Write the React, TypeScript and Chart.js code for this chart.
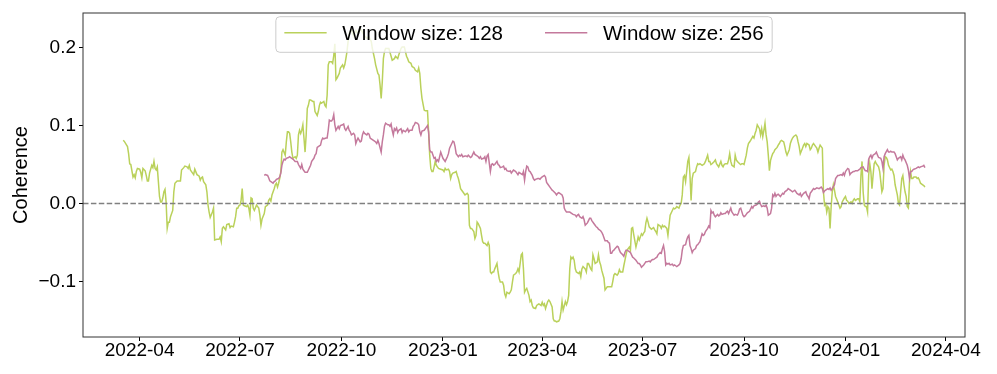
import React, { useEffect, useRef } from 'react';
import { Chart, registerables } from 'chart.js';

Chart.register(...registerables);

// ---------------- data ----------------
const BASE_DATE = '2022-04-01'; // day offsets below are counted from this date

const xTickLabels = ['2022-04', '2022-07', '2022-10', '2023-01', '2023-04', '2023-07', '2023-10', '2024-01', '2024-04'];
const yTickValues = [-0.1, 0, 0.1, 0.2];
const yTickLabels = ['\u22120.1', '0.0', '0.1', '0.2'];
const seriesLabels = ['Window size: 128', 'Window size: 256'];

const days128 = [
  -15, -14, -11, -10, -9, -8, -6, -5, -4, -3, -2, 0, 1, 2, 3, 5, 6, 7, 8, 9, 11, 12, 13, 14, 15, 16, 17, 18, 19, 20,
  21, 22, 23, 24, 25, 26, 27, 28, 30, 31, 32, 34, 35, 37, 38, 40, 41, 43, 44, 45, 46, 48, 49, 50, 52, 53, 54, 55, 56, 57,
  58, 60, 61, 62, 63, 64, 66, 67, 68, 70, 72, 73, 74, 75, 76, 78, 79, 81, 82, 83, 85, 86, 87, 88, 89, 90, 91, 92, 93, 94,
  95, 97, 98, 99, 100, 101, 102, 103, 104, 106, 107, 108, 109, 110, 111, 113, 114, 115, 116, 117, 118, 119, 120, 122, 123, 124, 125, 126, 127, 128,
  129, 130, 132, 133, 134, 135, 136, 137, 138, 139, 141, 142, 143, 144, 145, 146, 147, 148, 149, 150, 151, 152, 153, 154, 155, 157, 158, 159, 161, 162,
  163, 164, 165, 167, 168, 169, 170, 171, 172, 174, 175, 176, 177, 178, 179, 181, 182, 184, 185, 186, 187, 188, 189, 190, 192, 194, 196, 198, 200, 202,
  204, 206, 208, 210, 211, 213, 214, 216, 217, 218, 219, 220, 221, 222, 223, 226, 228, 229, 231, 232, 234, 235, 237, 238, 240, 241, 242, 243, 244, 246,
  247, 249, 250, 252, 253, 254, 255, 256, 258, 259, 261, 262, 263, 264, 265, 266, 267, 268, 269, 270, 271, 273, 275, 276, 277, 278, 280, 281, 282, 283,
  284, 286, 287, 288, 289, 290, 291, 292, 293, 295, 296, 297, 298, 299, 300, 301, 303, 304, 305, 306, 307, 309, 310, 311, 312, 313, 315, 316, 317, 318,
  319, 320, 321, 322, 324, 325, 326, 327, 329, 330, 331, 332, 333, 335, 336, 337, 338, 339, 341, 342, 343, 344, 345, 346, 347, 348, 349, 350, 351, 353,
  354, 355, 356, 357, 359, 360, 361, 362, 364, 365, 366, 367, 368, 370, 371, 372, 374, 375, 376, 377, 378, 380, 381, 382, 383, 384, 386, 387, 388, 389,
  390, 391, 392, 393, 394, 395, 396, 398, 399, 400, 401, 402, 404, 405, 406, 407, 409, 410, 411, 412, 413, 415, 416, 417, 418, 419, 421, 422, 423, 424,
  425, 427, 428, 429, 430, 431, 433, 434, 435, 436, 438, 439, 440, 441, 442, 444, 445, 446, 447, 448, 449, 450, 451, 452, 453, 455, 456, 457, 458, 459,
  460, 461, 462, 464, 465, 466, 467, 468, 469, 470, 472, 473, 474, 475, 476, 478, 479, 480, 481, 483, 484, 485, 486, 487, 489, 490, 491, 492, 493, 494,
  495, 496, 497, 498, 499, 500, 501, 502, 504, 505, 506, 507, 508, 510, 511, 512, 513, 515, 516, 517, 518, 519, 521, 522, 523, 524, 525, 527, 528, 529,
  530, 531, 533, 534, 535, 536, 537, 539, 540, 541, 542, 544, 545, 546, 547, 548, 550, 551, 552, 553, 554, 556, 557, 558, 559, 560, 562, 563, 564, 565,
  566, 567, 568, 569, 570, 571, 572, 573, 574, 575, 576, 578, 579, 580, 581, 582, 584, 585, 586, 587, 589, 590, 591, 592, 593, 595, 596, 597, 598, 599,
  601, 602, 603, 604, 605, 607, 608, 609, 610, 611, 613, 614, 615, 616, 617, 619, 620, 621, 622, 623, 624, 625, 626, 627, 628, 629, 630, 631, 633, 634,
  635, 636, 637, 639, 640, 641, 642, 643, 645, 646, 647, 648, 649, 651, 652, 653, 654, 655, 656, 657, 658, 659, 660, 661, 662, 663, 664, 665, 666, 667,
  668, 670, 671, 672, 673, 674, 675, 676, 677, 678, 679, 681, 682, 683, 684, 685, 687, 688, 689, 690, 691, 692, 693, 694, 695, 696, 697, 698, 699, 700,
  701, 702, 704, 705, 706, 707, 708, 710, 711, 712,
];
const values128 = [
  0.081, 0.080, 0.073, 0.064, 0.051, 0.050, 0.034, 0.037, 0.033, 0.041, 0.045, 0.044, 0.040, 0.033, 0.045, 0.042, 0.036, 0.029, 0.029, 0.039, 0.049, 0.046, 0.054, 0.045, 0.043, 0.047, 0.028, 0.009, 0.002, 0.002,
  0.007, 0.015, 0.018, 0.002, -0.032, -0.024, -0.024, -0.017, -0.009, 0.015, 0.026, 0.029, 0.029, 0.029, 0.043, 0.046, 0.048, 0.047, 0.045, 0.049, 0.043, 0.039, 0.037, 0.044, 0.037, 0.036, 0.035, 0.030, 0.033, 0.034,
  0.028, 0.024, 0.015, -0.002, -0.011, -0.018, -0.011, -0.006, -0.047, -0.046, -0.046, -0.043, -0.049, -0.032, -0.030, -0.034, -0.027, -0.026, -0.031, -0.029, -0.030, -0.024, -0.017, -0.006, -0.006, -0.003, -0.002, 0.004, 0.019, -0.002,
  -0.003, -0.004, -0.002, -0.006, -0.015, 0.007, 0.006, -0.006, -0.009, -0.002, -0.004, -0.006, -0.015, -0.028, -0.020, -0.013, -0.004, -0.003, -0.002, 0.004, 0.006, 0.003, 0.011, 0.019, 0.024, 0.026, 0.021, 0.026, 0.032, 0.041,
  0.066, 0.069, 0.062, 0.079, 0.092, 0.092, 0.090, 0.079, 0.066, 0.058, 0.060, 0.058, 0.062, 0.088, 0.094, 0.090, 0.094, 0.101, 0.084, 0.066, 0.088, 0.122, 0.126, 0.133, 0.133, 0.131, 0.131, 0.118, 0.113, 0.118,
  0.126, 0.130, 0.129, 0.131, 0.126, 0.124, 0.139, 0.178, 0.182, 0.182, 0.180, 0.190, 0.205, 0.159, 0.161, 0.167, 0.174, 0.178, 0.174, 0.178, 0.186, 0.195, 0.208, 0.219, 0.223, 0.215, 0.222, 0.218, 0.225, 0.220,
  0.215, 0.212, 0.214, 0.208, 0.199, 0.186, 0.178, 0.167, 0.165, 0.152, 0.135, 0.156, 0.186, 0.195, 0.199, 0.199, 0.189, 0.184, 0.186, 0.189, 0.186, 0.191, 0.199, 0.201, 0.201, 0.195, 0.189, 0.186, 0.182, 0.180,
  0.176, 0.174, 0.171, 0.169, 0.174, 0.167, 0.148, 0.135, 0.120, 0.119, 0.119, 0.092, 0.062, 0.045, 0.041, 0.041, 0.047, 0.054, 0.049, 0.047, 0.045, 0.044, 0.043, 0.041, 0.045, 0.043, 0.044, 0.041, 0.032, 0.037,
  0.039, 0.040, 0.041, 0.036, 0.032, 0.026, 0.019, 0.017, 0.015, 0.011, 0.012, 0.013, 0.011, -0.028, -0.032, -0.032, -0.036, -0.045, -0.041, -0.024, -0.026, -0.032, -0.041, -0.049, -0.051, -0.051, -0.054, -0.050, -0.054, -0.088,
  -0.090, -0.088, -0.088, -0.084, -0.077, -0.088, -0.096, -0.101, -0.101, -0.105, -0.116, -0.120, -0.114, -0.116, -0.114, -0.111, -0.101, -0.092, -0.090, -0.088, -0.084, -0.088, -0.077, -0.066, -0.064, -0.084, -0.114, -0.111, -0.109, -0.118,
  -0.126, -0.124, -0.131, -0.134, -0.135, -0.131, -0.130, -0.129, -0.131, -0.127, -0.131, -0.129, -0.135, -0.126, -0.124, -0.126, -0.133, -0.148, -0.151, -0.151, -0.152, -0.151, -0.148, -0.139, -0.126, -0.137, -0.126, -0.130, -0.126, -0.118,
  -0.084, -0.069, -0.071, -0.069, -0.073, -0.084, -0.088, -0.090, -0.088, -0.094, -0.084, -0.081, -0.084, -0.088, -0.077, -0.077, -0.084, -0.086, -0.066, -0.071, -0.077, -0.075, -0.066, -0.075, -0.079, -0.086, -0.096, -0.111, -0.109, -0.107,
  -0.107, -0.107, -0.107, -0.100, -0.092, -0.090, -0.092, -0.090, -0.085, -0.088, -0.088, -0.080, -0.073, -0.066, -0.060, -0.056, -0.060, -0.032, -0.031, -0.040, -0.048, -0.056, -0.050, -0.043, -0.047, -0.039, -0.041, -0.038, -0.036, -0.025,
  -0.019, -0.024, -0.030, -0.033, -0.032, -0.031, -0.034, -0.036, -0.039, -0.027, -0.029, -0.032, -0.028, -0.030, -0.029, -0.032, -0.041, -0.028, -0.015, -0.009, -0.006, -0.007, -0.006, -0.004, -0.006, -0.002, 0.000, 0.011, 0.034, 0.036,
  0.028, 0.041, 0.054, 0.059, 0.036, 0.004, 0.032, 0.039, 0.041, 0.047, 0.051, 0.050, 0.051, 0.049, 0.050, 0.051, 0.054, 0.062, 0.054, 0.054, 0.050, 0.051, 0.054, 0.056, 0.051, 0.049, 0.047, 0.054, 0.049, 0.047,
  0.050, 0.051, 0.051, 0.056, 0.064, 0.054, 0.049, 0.047, 0.062, 0.056, 0.054, 0.051, 0.050, 0.051, 0.051, 0.050, 0.062, 0.071, 0.077, 0.079, 0.081, 0.086, 0.084, 0.090, 0.094, 0.101, 0.096, 0.088, 0.096, 0.086,
  0.094, 0.103, 0.088, 0.079, 0.062, 0.042, 0.055, 0.060, 0.064, 0.066, 0.069, 0.072, 0.075, 0.077, 0.080, 0.081, 0.079, 0.073, 0.066, 0.062, 0.069, 0.077, 0.081, 0.084, 0.086, 0.088, 0.086, 0.079, 0.073, 0.064,
  0.071, 0.075, 0.077, 0.073, 0.077, 0.075, 0.069, 0.071, 0.075, 0.077, 0.073, 0.071, 0.066, 0.071, 0.075, 0.071, 0.015, -0.002, 0.000, -0.011, -0.004, -0.006, -0.032, -0.004, 0.015, 0.024, 0.017, 0.009, 0.002, -0.002,
  -0.006, -0.004, 0.002, 0.007, 0.009, 0.004, 0.003, 0.000, 0.002, 0.000, 0.004, 0.006, 0.004, 0.006, 0.006, 0.002, 0.036, 0.054, 0.015, -0.002, -0.004, -0.004, -0.011, 0.036, 0.051, 0.041, 0.019, 0.036, 0.051, 0.054,
  0.051, 0.047, 0.041, 0.028, 0.015, 0.019, 0.049, 0.060, 0.059, 0.056, 0.049, 0.043, 0.044, 0.041, 0.036, 0.024, 0.011, 0.000, -0.002, 0.015, 0.032, 0.036, 0.024, 0.015, 0.009, -0.004, -0.006, 0.028, 0.041, 0.032,
  0.032, 0.034, 0.034, 0.032, 0.033, 0.030, 0.026, 0.024, 0.023, 0.021,
];

const days256 = [
  113, 114, 116, 117, 118, 120, 121, 122, 123, 124, 126, 127, 128, 129, 130, 131, 132, 133, 135, 136, 137, 138, 139, 141, 142, 143, 144, 146, 147, 148,
  149, 150, 152, 153, 154, 155, 156, 158, 159, 160, 161, 162, 164, 165, 166, 167, 169, 170, 171, 172, 173, 174, 175, 176, 177, 178, 180, 181, 182, 184,
  185, 186, 187, 189, 190, 191, 192, 194, 195, 196, 197, 198, 200, 201, 202, 203, 204, 206, 207, 208, 209, 210, 212, 213, 214, 215, 216, 217, 219, 220,
  221, 222, 223, 225, 226, 227, 228, 229, 230, 231, 232, 233, 234, 235, 237, 238, 239, 241, 242, 243, 244, 245, 247, 248, 249, 250, 252, 253, 254, 255,
  256, 258, 259, 260, 261, 262, 263, 264, 265, 266, 267, 268, 269, 270, 271, 272, 273, 274, 275, 277, 278, 279, 280, 281, 283, 284, 285, 286, 287, 289,
  290, 291, 292, 293, 295, 296, 297, 298, 300, 301, 302, 303, 304, 306, 307, 308, 309, 310, 312, 313, 314, 315, 316, 318, 319, 320, 321, 322, 324, 325,
  326, 327, 329, 330, 331, 332, 333, 335, 336, 337, 338, 339, 341, 342, 343, 344, 345, 347, 348, 349, 350, 351, 352, 353, 354, 356, 357, 358, 359, 361,
  362, 363, 364, 365, 367, 368, 369, 370, 372, 373, 374, 375, 377, 378, 379, 380, 381, 383, 384, 385, 386, 387, 389, 390, 391, 392, 393, 395, 396, 397,
  398, 399, 401, 402, 403, 404, 406, 407, 408, 409, 410, 412, 413, 414, 415, 416, 418, 419, 420, 421, 422, 424, 425, 426, 427, 428, 429, 430, 431, 433,
  434, 435, 436, 438, 439, 440, 441, 442, 444, 445, 446, 447, 448, 450, 451, 452, 453, 454, 455, 457, 458, 459, 460, 462, 463, 464, 465, 466, 467, 468,
  469, 470, 472, 473, 474, 475, 476, 477, 478, 479, 480, 481, 483, 484, 485, 486, 487, 489, 490, 491, 492, 493, 495, 496, 497, 498, 499, 500, 501, 502,
  504, 505, 506, 507, 508, 510, 511, 512, 513, 515, 516, 517, 518, 519, 520, 521, 522, 524, 525, 526, 527, 528, 530, 531, 532, 533, 534, 536, 537, 538,
  539, 540, 542, 543, 544, 545, 547, 548, 549, 550, 551, 553, 554, 555, 556, 557, 559, 560, 561, 562, 563, 564, 566, 567, 568, 569, 570, 572, 573, 574,
  575, 576, 577, 578, 579, 581, 582, 583, 584, 585, 587, 588, 589, 590, 592, 593, 594, 595, 596, 598, 599, 600, 601, 602, 604, 605, 606, 607, 608, 610,
  611, 612, 613, 614, 616, 617, 618, 619, 620, 621, 622, 624, 625, 626, 627, 628, 630, 631, 632, 633, 634, 636, 637, 638, 639, 640, 642, 643, 644, 645,
  646, 647, 648, 649, 651, 652, 653, 654, 656, 657, 658, 659, 660, 661, 662, 663, 664, 665, 667, 668, 669, 670, 672, 673, 674, 675, 676, 678, 679, 680,
  681, 682, 684, 685, 686, 687, 688, 690, 691, 692, 693, 694, 696, 697, 698, 699, 700, 701, 702, 704, 705, 706, 707, 708, 710, 711, 712,
];
const values256 = [
  0.036, 0.037, 0.036, 0.033, 0.029, 0.027, 0.026, 0.028, 0.029, 0.031, 0.032, 0.034, 0.039, 0.049, 0.054, 0.057, 0.056, 0.058, 0.059, 0.060, 0.059, 0.058, 0.057, 0.054, 0.054, 0.054, 0.050, 0.045, 0.050, 0.044,
  0.042, 0.040, 0.040, 0.043, 0.046, 0.049, 0.054, 0.058, 0.062, 0.064, 0.072, 0.073, 0.075, 0.081, 0.084, 0.083, 0.084, 0.084, 0.094, 0.107, 0.106, 0.106, 0.108, 0.114, 0.101, 0.094, 0.099, 0.096, 0.100, 0.101,
  0.102, 0.096, 0.094, 0.099, 0.094, 0.092, 0.088, 0.090, 0.088, 0.077, 0.081, 0.084, 0.079, 0.080, 0.088, 0.092, 0.090, 0.088, 0.090, 0.089, 0.084, 0.083, 0.081, 0.080, 0.079, 0.077, 0.081, 0.077, 0.066, 0.079,
  0.088, 0.099, 0.103, 0.101, 0.101, 0.099, 0.102, 0.094, 0.088, 0.096, 0.094, 0.097, 0.091, 0.094, 0.096, 0.091, 0.094, 0.092, 0.094, 0.096, 0.092, 0.094, 0.094, 0.099, 0.101, 0.104, 0.103, 0.101, 0.092, 0.088,
  0.093, 0.094, 0.096, 0.098, 0.100, 0.092, 0.069, 0.066, 0.066, 0.062, 0.058, 0.059, 0.054, 0.056, 0.054, 0.060, 0.066, 0.062, 0.058, 0.054, 0.057, 0.060, 0.064, 0.071, 0.077, 0.080, 0.079, 0.073, 0.064, 0.060,
  0.062, 0.061, 0.063, 0.060, 0.061, 0.061, 0.060, 0.062, 0.059, 0.060, 0.063, 0.066, 0.063, 0.061, 0.060, 0.058, 0.060, 0.057, 0.058, 0.060, 0.054, 0.061, 0.063, 0.041, 0.050, 0.051, 0.049, 0.050, 0.054, 0.050,
  0.049, 0.046, 0.047, 0.048, 0.044, 0.045, 0.042, 0.041, 0.042, 0.039, 0.041, 0.043, 0.041, 0.039, 0.037, 0.040, 0.039, 0.037, 0.041, 0.030, 0.041, 0.048, 0.047, 0.042, 0.041, 0.036, 0.032, 0.030, 0.031, 0.032,
  0.032, 0.031, 0.033, 0.034, 0.036, 0.034, 0.027, 0.025, 0.021, 0.019, 0.017, 0.016, 0.013, 0.011, 0.013, 0.014, 0.013, 0.011, 0.007, -0.006, -0.009, -0.011, -0.011, -0.011, -0.012, -0.013, -0.014, -0.015, -0.017, -0.015,
  -0.014, -0.017, -0.019, -0.017, -0.021, -0.028, -0.025, -0.022, -0.019, -0.019, -0.022, -0.026, -0.028, -0.030, -0.031, -0.033, -0.035, -0.037, -0.040, -0.044, -0.048, -0.048, -0.050, -0.051, -0.064, -0.064, -0.061, -0.060, -0.058, -0.055,
  -0.056, -0.060, -0.063, -0.066, -0.068, -0.063, -0.060, -0.060, -0.062, -0.063, -0.066, -0.069, -0.070, -0.073, -0.075, -0.077, -0.077, -0.079, -0.082, -0.079, -0.077, -0.075, -0.075, -0.074, -0.075, -0.073, -0.072, -0.072, -0.071, -0.070,
  -0.069, -0.066, -0.063, -0.064, -0.058, -0.054, -0.062, -0.079, -0.077, -0.078, -0.077, -0.079, -0.078, -0.080, -0.079, -0.080, -0.081, -0.079, -0.077, -0.071, -0.060, -0.054, -0.053, -0.047, -0.043, -0.041, -0.054, -0.058, -0.063, -0.060,
  -0.058, -0.054, -0.053, -0.051, -0.049, -0.039, -0.041, -0.040, -0.036, -0.032, -0.029, -0.031, -0.009, -0.012, -0.011, -0.015, -0.017, -0.014, -0.016, -0.015, -0.012, -0.014, -0.013, -0.013, -0.011, -0.010, -0.013, -0.006, -0.011, -0.013,
  -0.015, -0.014, -0.015, -0.012, -0.007, -0.006, -0.015, -0.017, -0.016, -0.014, -0.012, -0.010, -0.007, -0.004, -0.006, -0.003, -0.002, -0.001, 0.002, 0.003, -0.001, -0.004, -0.003, -0.004, -0.002, -0.006, -0.015, -0.013, -0.006, 0.011,
  0.009, 0.013, 0.009, 0.011, 0.012, 0.009, 0.011, 0.013, 0.012, 0.015, 0.017, 0.019, 0.018, 0.017, 0.015, 0.016, 0.017, 0.015, 0.013, 0.011, 0.013, 0.009, 0.011, 0.013, 0.015, 0.011, 0.009, 0.006, 0.013, 0.017,
  0.019, 0.018, 0.019, 0.020, 0.019, 0.020, 0.021, 0.019, 0.014, 0.016, 0.017, 0.019, 0.018, 0.020, 0.017, 0.019, 0.024, 0.032, 0.034, 0.036, 0.036, 0.037, 0.036, 0.039, 0.036, 0.041, 0.045, 0.044, 0.037, 0.039,
  0.040, 0.041, 0.041, 0.042, 0.042, 0.043, 0.044, 0.046, 0.047, 0.044, 0.042, 0.042, 0.041, 0.057, 0.060, 0.062, 0.058, 0.062, 0.064, 0.066, 0.062, 0.059, 0.058, 0.054, 0.045, 0.060, 0.064, 0.069, 0.066, 0.066,
  0.067, 0.066, 0.066, 0.064, 0.060, 0.056, 0.058, 0.060, 0.056, 0.062, 0.058, 0.056, 0.049, 0.043, 0.032, 0.041, 0.041, 0.043, 0.044, 0.045, 0.046, 0.047, 0.046, 0.047, 0.048, 0.049, 0.046,
];

// ---------------- styling ----------------
const FONT = '"Liberation Sans", Arial, Helvetica, sans-serif';
const GREEN = '#bad15b';
const PINK = '#c4799c';

function dayOfLabel(label: string): number {
  const [y, m] = label.split('-').map(Number);
  const [by, bm, bd] = BASE_DATE.split('-').map(Number);
  return (Date.UTC(y, m - 1, 1) - Date.UTC(by, bm - 1, bd)) / 86400000;
}

const decorPlugin = {
  id: 'decor',
  afterDatasetsDraw(chart: any) {
    const { ctx, chartArea: a, scales } = chart;
    ctx.save();
    // zero reference line
    const y0 = scales.y.getPixelForValue(0);
    ctx.beginPath();
    ctx.setLineDash([5.5, 2.4]);
    ctx.lineWidth = 1.5;
    ctx.strokeStyle = '#808080';
    ctx.moveTo(a.left, y0);
    ctx.lineTo(a.right, y0);
    ctx.stroke();
    ctx.setLineDash([]);

    // frame
    ctx.lineWidth = 1;
    ctx.strokeStyle = '#333333';
    ctx.strokeRect(a.left, a.top, a.right - a.left, a.bottom - a.top);

    // legend (inside, upper centre)
    const ds = chart.data.datasets;
    ctx.font = `20.5px ${FONT}`;
    const pad = 8.5, lineLen = 42.3, gap = 15.7, colGap = 42, h = 35.6, r = 4;
    const widths = ds.map((d: any) => ctx.measureText(d.label).width);
    const total = pad * 2 + ds.length * (lineLen + gap) + widths.reduce((s: number, w: number) => s + w, 0) + colGap * (ds.length - 1);
    const bx = (a.left + a.right) / 2 - total / 2;
    const by = a.top + 3.7;
    ctx.beginPath();
    ctx.moveTo(bx + r, by);
    ctx.lineTo(bx + total - r, by);
    ctx.arcTo(bx + total, by, bx + total, by + r, r);
    ctx.lineTo(bx + total, by + h - r);
    ctx.arcTo(bx + total, by + h, bx + total - r, by + h, r);
    ctx.lineTo(bx + r, by + h);
    ctx.arcTo(bx, by + h, bx, by + h - r, r);
    ctx.lineTo(bx, by + r);
    ctx.arcTo(bx, by, bx + r, by, r);
    ctx.closePath();
    ctx.fillStyle = 'rgba(255,255,255,0.8)';
    ctx.fill();
    ctx.strokeStyle = '#cccccc';
    ctx.lineWidth = 1;
    ctx.stroke();

    let x = bx + pad;
    ds.forEach((d: any, i: number) => {
      ctx.beginPath();
      ctx.strokeStyle = d.borderColor;
      ctx.lineWidth = 1.5;
      ctx.moveTo(x, by + 16);
      ctx.lineTo(x + lineLen, by + 16);
      ctx.stroke();
      x += lineLen + gap;
      ctx.fillStyle = '#000000';
      ctx.textBaseline = 'alphabetic';
      ctx.textAlign = 'left';
      ctx.fillText(d.label, x, by + 23.3);
      x += widths[i] + colGap;
    });
    ctx.restore();
  },
};

export default function App() {
  const canvasRef = useRef<HTMLCanvasElement | null>(null);

  useEffect(() => {
    if (!canvasRef.current) return;
    const first = Math.min(days128[0], days256[0]);
    const last = Math.max(days128[days128.length - 1], days256[days256.length - 1]);
    const span = last - first;

    const chart = new Chart(canvasRef.current, {
      type: 'line',
      data: {
        datasets: [
          {
            label: seriesLabels[0],
            data: days128.map((d, i) => ({ x: d, y: values128[i] })),
            borderColor: GREEN,
            backgroundColor: GREEN,
            borderWidth: 1.5,
            pointRadius: 0,
            tension: 0,
            fill: false,
            order: 1,
          },
          {
            label: seriesLabels[1],
            data: days256.map((d, i) => ({ x: d, y: values256[i] })),
            borderColor: PINK,
            backgroundColor: PINK,
            borderWidth: 1.5,
            pointRadius: 0,
            tension: 0,
            fill: false,
            order: 0,
          },
        ],
      },
      options: {
        animation: false,
        responsive: true,
        maintainAspectRatio: false,
        events: [],
        layout: { padding: { left: 0, top: 13, right: 32, bottom: 0 } },
        plugins: { legend: { display: false }, tooltip: { enabled: false } },
        scales: {
          x: {
            type: 'linear',
            min: first - 0.05 * span,
            max: last + 0.05 * span,
            border: { display: false },
            grid: { display: true, drawOnChartArea: false, drawTicks: true, tickLength: 4, tickColor: '#000000', tickWidth: 1 },
            ticks: {
              autoSkip: false,
              maxRotation: 0,
              minRotation: 0,
              padding: 0,
              color: '#000000',
              font: { family: FONT, size: 19, lineHeight: 1 },
              callback: (_v: any, i: number) => xTickLabels[i],
            },
            afterBuildTicks: (s: any) => {
              s.ticks = xTickLabels.map((l) => ({ value: dayOfLabel(l) }));
            },
            afterFit: (s: any) => {
              s.height = 37;
            },
          },
          y: {
            type: 'linear',
            min: -0.1715,
            max: 0.2446,
            border: { display: false },
            grid: { display: true, drawOnChartArea: false, drawTicks: true, tickLength: 4, tickColor: '#000000', tickWidth: 1 },
            ticks: {
              padding: 3,
              color: '#000000',
              font: { family: FONT, size: 19, lineHeight: 1 },
              callback: (_v: any, i: number) => yTickLabels[i],
            },
            afterBuildTicks: (s: any) => {
              s.ticks = yTickValues.map((v) => ({ value: v }));
            },
            afterFit: (s: any) => {
              s.width = 83;
            },
            title: {
              display: true,
              text: 'Coherence',
              color: '#000000',
              font: { family: FONT, size: 20, lineHeight: 1.2 },
              padding: { top: 9, bottom: 0 },
            },
          },
        },
      },
      plugins: [decorPlugin],
    } as any);

    return () => chart.destroy();
  }, []);

  return (
    <div style={{ position: 'absolute', left: 0, top: 0, width: 997, height: 374 }}>
      <canvas ref={canvasRef} />
    </div>
  );
}
